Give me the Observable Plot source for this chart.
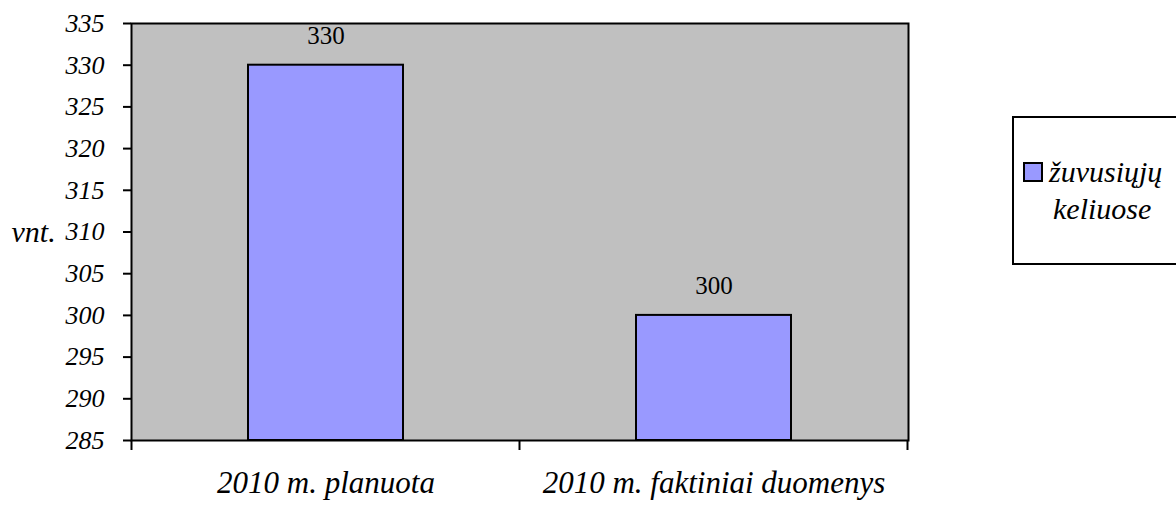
<!DOCTYPE html>
<html><head><meta charset="utf-8">
<script src="https://cdn.jsdelivr.net/npm/d3@7"></script>
<script src="https://cdn.jsdelivr.net/npm/@observablehq/plot@0.6"></script>
<style>
body{margin:0;background:#fff;overflow:hidden;}
#wrap{position:relative;width:1176px;height:506px;overflow:hidden;}
#wrap svg, #wrap svg text{font-family:"Liberation Serif","Times New Roman",Times,"DejaVu Serif",serif !important;}
#legend{position:absolute;left:1012px;top:116px;width:220px;height:145px;border:2px solid #000;background:#fff;font-family:"Liberation Serif","Times New Roman",Times,"DejaVu Serif",serif;font-style:italic;font-size:30px;color:#000;}
#legend .sw{position:absolute;left:9px;top:44px;width:16px;height:16px;border:2px solid #000;background:#9999ff;}
#legend .t{position:absolute;white-space:nowrap;line-height:30px;}
</style></head><body><div id="wrap"></div><script>
const categories = ["2010 m. planuota", "2010 m. faktiniai duomenys"];
const values = [330, 300];
const yDomain = [285, 335];
const yTicks = [285, 290, 295, 300, 305, 310, 315, 320, 325, 330, 335];
const yLabel = "vnt.";
const legendLines = ["žuvusiųjų", "keliuose"];

const data = categories.map((c, i) => ({cat: c, value: values[i]}));

const plot = Plot.plot({
  width: 1176,
  height: 506,
  marginLeft: 131,
  marginTop: 23,
  marginBottom: 66,
  marginRight: 268,
  style: {fontSize: "24px", color: "#000", background: "#fff"},
  x: {domain: categories, paddingInner: 0.6, paddingOuter: 0.3, label: null},
  y: {domain: yDomain, label: null},
  marks: [
    Plot.frame({fill: "#c0c0c0"}),
    Plot.barY(data, {x: "cat", y1: yDomain[0], y2: "value", fill: "#9999ff", stroke: "#000", strokeWidth: 2}),
    Plot.text(data, {x: "cat", y: "value", text: d => String(d.value), dy: -29, lineAnchor: "middle", fontSize: 25, fill: "#000"}),
    Plot.frame({stroke: "#000", strokeWidth: 2}),
    Plot.axisY({ticks: yTicks, tickSize: 8, tickPadding: 19, strokeWidth: 2, fontSize: 26, fontStyle: "italic", tickFormat: d => String(d), label: null}),
    Plot.axisX({tickSize: 0, tickPadding: 30, fontSize: 31, fontStyle: "italic", label: null, lineAnchor: "top"}),
    Plot.text([yLabel], {frameAnchor: "left", dx: -120, textAnchor: "start", fontSize: 30, fontStyle: "italic", fill: "#000"})
  ]
});

// x-axis ticks at category boundaries, computed from the band scale
const xs = plot.scale("x");
const ys = plot.scale("y");
const step = xs.step, bw = xs.bandwidth;
const edges = categories.map(c => xs.apply(c) - (step - bw) / 2);
edges.push(xs.apply(categories[categories.length - 1]) + bw + (step - bw) / 2);
const y0 = ys.apply(yDomain[0]);
d3.select(plot).append("g").selectAll("line").data(edges).join("line")
  .attr("x1", d => d).attr("x2", d => d)
  .attr("y1", y0).attr("y2", y0 + 10)
  .attr("stroke", "#000").attr("stroke-width", 2);

const wrap = document.getElementById("wrap");
wrap.appendChild(plot);
const lg = document.createElement("div");
lg.id = "legend";
lg.innerHTML = `<div class="sw"></div><div class="t" style="left:35px;top:39px">${legendLines[0]}</div><div class="t" style="left:39px;top:76px">${legendLines[1]}</div>`;
wrap.appendChild(lg);
</script></body></html>
